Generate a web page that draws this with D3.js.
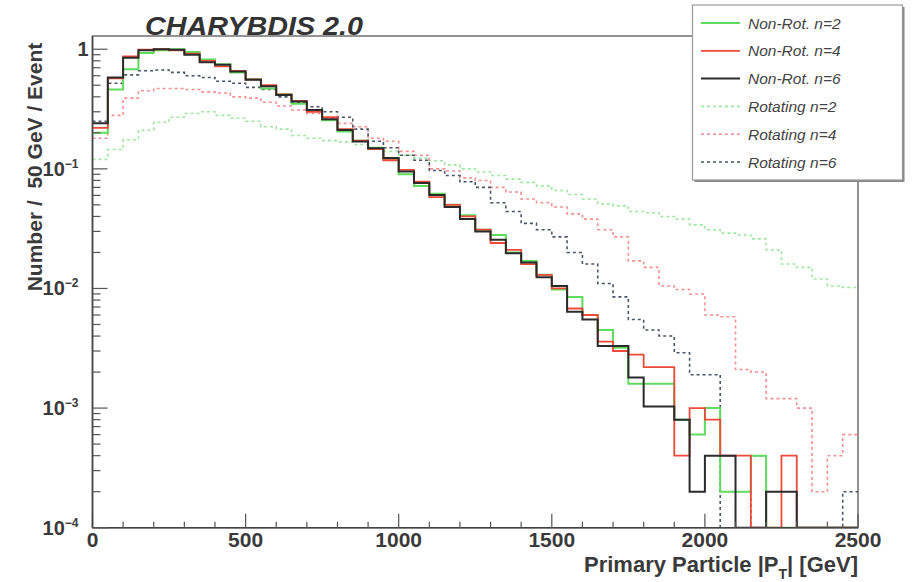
<!DOCTYPE html>
<html>
<head>
<meta charset="utf-8">
<script src="https://cdn.jsdelivr.net/npm/d3@7"></script>
<style>
  html, body { margin: 0; padding: 0; background: #fff; }
  svg { display: block; }
  text { font-family: "Liberation Sans", Arial, Helvetica, sans-serif; }
</style>
</head>
<body>
<svg id="chart" width="913" height="582"></svg>
<script>
// Primary particle |pT| spectra, 50 GeV bins from 0 to 2500 GeV
const binWidth = 50;
const binStarts = d3.range(0, 2500, binWidth);

const nonRotN2 = [0.20, 0.46, 0.68, 0.93, 0.98, 1.0, 0.95, 0.82, 0.75, 0.64,
  0.56, 0.47, 0.42, 0.35, 0.31, 0.255, 0.205, 0.172, 0.150, 0.120,
  0.090, 0.072, 0.062, 0.050, 0.041, 0.031, 0.028, 0.020, 0.0170, 0.0130,
  0.0098, 0.0085, 0.0060, 0.0045, 0.0032, 0.0016, 0.0016, 0.0016, 0.0008, 0.0006,
  0.0010, 0.0002, 0.0002, 0.0004, 0, 0, 0, 0, 0, 0];

const nonRotN4 = [0.22, 0.57, 0.87, 0.99, 1.0, 0.98, 0.92, 0.80, 0.72, 0.66,
  0.56, 0.50, 0.42, 0.37, 0.30, 0.27, 0.215, 0.172, 0.146, 0.118,
  0.098, 0.078, 0.058, 0.050, 0.040, 0.031, 0.024, 0.021, 0.0160, 0.0130,
  0.0100, 0.0068, 0.0060, 0.0036, 0.0030, 0.0028, 0.0022, 0.0022, 0.0004, 0.0010,
  0.0008, 0.0004, 0.0004, 0, 0, 0.0004, 0, 0, 0, 0];

const nonRotN6 = [0.24, 0.58, 0.85, 0.98, 1.0, 0.99, 0.90, 0.78, 0.74, 0.65,
  0.555, 0.49, 0.415, 0.365, 0.31, 0.26, 0.211, 0.169, 0.149, 0.123,
  0.095, 0.076, 0.0605, 0.048, 0.038, 0.030, 0.0255, 0.0197, 0.0165, 0.0124,
  0.0105, 0.0064, 0.0055, 0.0033, 0.0033, 0.0018, 0.00103, 0.00103, 0.0008, 0.0002,
  0.0004, 0.0004, 0, 0, 0.0002, 0.0002, 0, 0, 0, 0];

const rotN2 = [0.12, 0.145, 0.175, 0.21, 0.245, 0.27, 0.29, 0.30, 0.28, 0.265,
  0.25, 0.225, 0.215, 0.19, 0.18, 0.172, 0.168, 0.16, 0.15, 0.14,
  0.130, 0.123, 0.117, 0.108, 0.100, 0.094, 0.088, 0.082, 0.077, 0.072,
  0.066, 0.061, 0.056, 0.051, 0.049, 0.044, 0.043, 0.040, 0.038, 0.034,
  0.031, 0.029, 0.028, 0.026, 0.021, 0.016, 0.015, 0.012, 0.0105, 0.0102];

const rotN4 = [0.18, 0.28, 0.39, 0.45, 0.47, 0.47, 0.46, 0.44, 0.43, 0.40,
  0.39, 0.36, 0.335, 0.31, 0.29, 0.265, 0.24, 0.225, 0.18, 0.17,
  0.14, 0.13, 0.10, 0.096, 0.084, 0.080, 0.070, 0.064, 0.056, 0.052,
  0.048, 0.042, 0.038, 0.031, 0.027, 0.017, 0.015, 0.0105, 0.0098, 0.0090,
  0.0060, 0.0058, 0.0021, 0.0020, 0.0012, 0.0012, 0.0010, 0.0002, 0.0004, 0.0006];

const rotN6 = [0.25, 0.52, 0.61, 0.66, 0.67, 0.64, 0.60, 0.58, 0.54, 0.52,
  0.48, 0.46, 0.40, 0.36, 0.33, 0.30, 0.27, 0.215, 0.17, 0.15,
  0.13, 0.118, 0.097, 0.088, 0.078, 0.070, 0.052, 0.044, 0.035, 0.031,
  0.027, 0.020, 0.016, 0.011, 0.0085, 0.0055, 0.0045, 0.0040, 0.0029, 0.0019,
  0.0019, 0, 0, 0.0004, 0, 0, 0, 0, 0, 0.0002];

const seriesNames = ["Non-Rot. n=2", "Non-Rot. n=4", "Non-Rot. n=6",
                     "Rotating n=2", "Rotating n=4", "Rotating n=6"];
const seriesValues = [nonRotN2, nonRotN4, nonRotN6, rotN2, rotN4, rotN6];

const xTicks = [0, 500, 1000, 1500, 2000, 2500];
const yTickExponents = [0, -1, -2, -3, -4];

const titleText = "CHARYBDIS 2.0";
const xTitle = "Primary Particle |P";
const yTitle = "Number /\u00a0\u00a050 GeV / Event";

// drawing styles per series
const styles = [
  { color: "#5fdc5f", width: 2.0, dash: null },
  { color: "#ee4a3c", width: 1.8, dash: null },
  { color: "#2b2b2b", width: 2.0, dash: null },
  { color: "#9fe89f", width: 1.6, dash: "3,3" },
  { color: "#f39090", width: 1.6, dash: "3,3" },
  { color: "#4a5468", width: 1.6, dash: "3,3" }
];

const svg = d3.select("#chart");
const frame = { left: 92.5, right: 858, top: 36, bottom: 527.7 };

const x = d3.scaleLinear().domain([0, 2500]).range([frame.left, frame.right]);
const y = d3.scaleLog().domain([1e-4, 1.29]).range([frame.bottom, frame.top]);
const yMin = y.domain()[0];

// clip region for the histograms
svg.append("defs").append("clipPath").attr("id", "plotClip")
  .append("rect")
  .attr("x", frame.left).attr("y", frame.top)
  .attr("width", frame.right - frame.left)
  .attr("height", frame.bottom - frame.top);

// frame
svg.append("rect")
  .attr("x", frame.left).attr("y", frame.top)
  .attr("width", frame.right - frame.left)
  .attr("height", frame.bottom - frame.top)
  .attr("fill", "none").attr("stroke", "#666").attr("stroke-width", 1.4);

// step outline for one histogram; empty bins fall to the bottom of the frame
function stepPoints(values) {
  const pts = [];
  values.forEach((v, i) => {
    const yy = v > yMin ? v : yMin;
    pts.push([binStarts[i], yy]);
    pts.push([binStarts[i] + binWidth, yy]);
  });
  return pts;
}
const line = d3.line().x(d => x(d[0])).y(d => y(d[1]));

const gHist = svg.append("g").attr("clip-path", "url(#plotClip)");
// dashed (rotating) first, solid on top
const drawOrder = [3, 4, 5, 0, 1, 2];
drawOrder.forEach(k => {
  gHist.append("path")
    .attr("d", line(stepPoints(seriesValues[k])))
    .attr("fill", "none")
    .attr("stroke", styles[k].color)
    .attr("stroke-width", styles[k].width)
    .attr("stroke-dasharray", styles[k].dash)
    .attr("stroke-linejoin", "miter");
});

// x axis: major ticks every 500, minor every 100, drawn upward into the frame
const gx = svg.append("g").attr("transform", `translate(0,${frame.bottom})`);
gx.append("path").attr("d", `M${frame.left},0H${frame.right}`)
  .attr("stroke", "#444").attr("stroke-width", 1.6);
d3.range(0, 2501, 100).forEach(v => {
  const major = v % 500 === 0;
  gx.append("line")
    .attr("x1", x(v)).attr("x2", x(v))
    .attr("y1", 0).attr("y2", major ? -14 : -6)
    .attr("stroke", "#555").attr("stroke-width", 1.2);
});
gx.selectAll("text.xtick").data(xTicks).join("text")
  .attr("class", "xtick")
  .attr("x", d => x(d)).attr("y", 19.5)
  .attr("text-anchor", "middle")
  .attr("font-size", 21).attr("font-weight", "bold")
  .attr("fill", "#3a3a3a")
  .text(d => d);

// y axis: log ticks with minor marks at 2..9 in each decade
const gy = svg.append("g").attr("transform", `translate(${frame.left},0)`);
gy.append("path").attr("d", `M0,${frame.top}V${frame.bottom}`)
  .attr("stroke", "#444").attr("stroke-width", 1.6);
for (let e = -4; e <= 0; e++) {
  for (let m = 1; m <= 9; m++) {
    const v = m * Math.pow(10, e);
    if (v > y.domain()[1]) continue;
    gy.append("line")
      .attr("x1", 0).attr("x2", m === 1 ? 15 : 8)
      .attr("y1", y(v)).attr("y2", y(v))
      .attr("stroke", "#555").attr("stroke-width", 1.2);
  }
}
yTickExponents.forEach(e => {
  const t = gy.append("text")
    .attr("x", e === 0 ? -4 : -14)
    .attr("y", y(Math.pow(10, e)) + 7)
    .attr("text-anchor", "end")
    .attr("font-size", 20).attr("font-weight", "bold")
    .attr("fill", "#3a3a3a");
  if (e === 0) {
    t.text("1");
  } else {
    t.append("tspan").text("10");
    t.append("tspan").attr("font-size", 12).attr("dy", -8).text(String(e).replace("-", "\u2212"));
  }
});

// axis titles
const xt = svg.append("text")
  .attr("x", frame.right).attr("y", 572)
  .attr("text-anchor", "end")
  .attr("font-size", 22).attr("font-weight", "bold")
  .attr("fill", "#3a3a3a");
xt.append("tspan").text(xTitle);
xt.append("tspan").attr("font-size", 14).attr("dy", 7).text("T");
xt.append("tspan").attr("dy", -7).text("| [GeV]");

svg.append("text")
  .attr("transform", "translate(42,167) rotate(-90)")
  .attr("text-anchor", "middle")
  .attr("font-size", 21).attr("font-weight", "bold")
  .attr("fill", "#3a3a3a")
  .text(yTitle);

// plot title
svg.append("text")
  .attr("x", 145).attr("y", 35)
  .attr("font-size", 25).attr("font-weight", "bold").attr("font-style", "italic")
  .attr("textLength", 218).attr("lengthAdjust", "spacingAndGlyphs")
  .attr("fill", "#333")
  .text(titleText);

// legend
const lg = { x: 692.5, y: 5, w: 210, h: 175 };
svg.append("rect")
  .attr("x", lg.x + 2).attr("y", lg.y + 2).attr("width", lg.w).attr("height", lg.h)
  .attr("fill", "#888");
svg.append("rect")
  .attr("x", lg.x).attr("y", lg.y).attr("width", lg.w).attr("height", lg.h)
  .attr("fill", "#fff").attr("stroke", "#999").attr("stroke-width", 1.2);

const rowY = d3.scalePoint().domain(d3.range(seriesNames.length)).range([23, 162]);
seriesNames.forEach((name, k) => {
  const yy = rowY(k);
  svg.append("line")
    .attr("x1", 701).attr("x2", 740).attr("y1", yy).attr("y2", yy)
    .attr("stroke", styles[k].color)
    .attr("stroke-width", styles[k].width)
    .attr("stroke-dasharray", styles[k].dash);
  svg.append("text")
    .attr("x", 748).attr("y", yy + 5.5)
    .attr("font-size", 15.5).attr("font-style", "italic")
    .attr("fill", "#444")
    .text(name);
});
</script>
</body>
</html>
